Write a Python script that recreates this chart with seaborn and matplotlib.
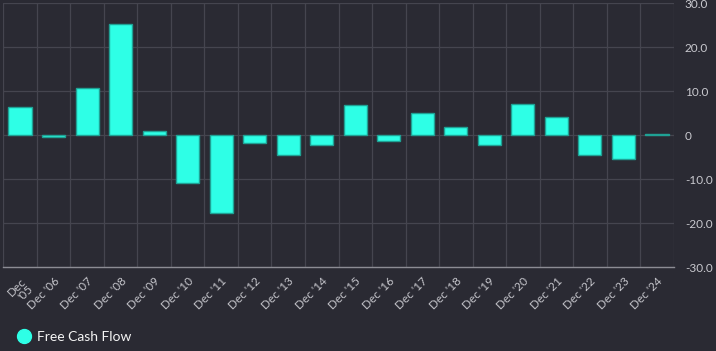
import numpy as np
import pandas as pd
import seaborn as sns
import matplotlib.pyplot as plt
from matplotlib.lines import Line2D
from matplotlib.ticker import FuncFormatter, FixedLocator

# data
years = ["Dec\n'05", "Dec '06", "Dec '07", "Dec '08", "Dec '09", "Dec '10", "Dec '11",
         "Dec '12", "Dec '13", "Dec '14", "Dec '15", "Dec '16", "Dec '17", "Dec '18",
         "Dec '19", "Dec '20", "Dec '21", "Dec '22", "Dec '23", "Dec '24"]
fcf = [6.5, -0.5, 10.7, 25.2, 0.9, -10.9, -17.7, -1.8, -4.5, -2.3,
       6.8, -1.4, 5.0, 1.8, -2.3, 7.0, 4.1, -4.5, -5.5, 0.3]
y_ticks = [-30, -20, -10, 0, 10, 20, 30]

df = pd.DataFrame({'period': years, 'fcf': fcf})

bg = '#2a2a33'
bar_color = '#2effe6'
edge_color = '#1fa194'
grid_color = '#45454f'

sns.set_theme(style='dark')
plt.rcParams['font.family'] = ['Lato', 'DejaVu Sans']

fig = plt.figure(figsize=(7.16, 3.51), dpi=100, facecolor=bg)
ax = fig.add_axes([3.3 / 716, 1 - 267.3 / 351, 670.4 / 716, 264.3 / 351])
ax.set_facecolor(bg)

sns.barplot(data=df, x='period', y='fcf', color=bar_color, width=0.69,
            edgecolor=edge_color, linewidth=1.0, saturation=1, ax=ax, zorder=3)

ax.set_xlim(-0.5, len(years) - 0.5)
ax.set_ylim(-30, 30)

# vertical grid at category boundaries
ax.xaxis.set_minor_locator(FixedLocator(np.arange(-0.5, len(years), 1)))
ax.grid(which='minor', axis='x', color=grid_color, linewidth=0.9, zorder=0)
ax.yaxis.set_major_locator(FixedLocator(y_ticks))
ax.grid(which='major', axis='y', color=grid_color, linewidth=0.9, zorder=0)
ax.grid(which='major', axis='x', visible=False)

ax.yaxis.tick_right()
ax.yaxis.set_major_formatter(FuncFormatter(lambda v, p: '0' if v == 0 else f'{v:.1f}'))
ax.tick_params(axis='y', which='both', length=0, pad=8, labelsize=8.5, labelcolor='#c9c9cf')
ax.tick_params(axis='x', which='both', length=0, pad=6, labelsize=8.5, labelcolor='#c4c4ca')
for lbl in ax.get_xticklabels():
    lbl.set_rotation(45)
    lbl.set_ha('right')
    lbl.set_va('top')
    lbl.set_rotation_mode('anchor')
    lbl.set_linespacing(0.95)

ax.set_xlabel('')
ax.set_ylabel('')
for side in ['top', 'left', 'right']:
    ax.spines[side].set_visible(False)
ax.spines['bottom'].set_color('#8c8c94')
ax.spines['bottom'].set_linewidth(1.0)

handle = Line2D([], [], marker='o', linestyle='none', markersize=10,
                markerfacecolor=bar_color, markeredgecolor=bar_color)
fig.legend([handle], ['Free Cash Flow'], loc='lower left', bbox_to_anchor=(0.006, 0.004),
           frameon=False, fontsize=10, labelcolor='#f4f4f4', handletextpad=-0.1,
           borderaxespad=0.15, borderpad=0.3)

fig.savefig('out.png', dpi=100, facecolor=bg)
